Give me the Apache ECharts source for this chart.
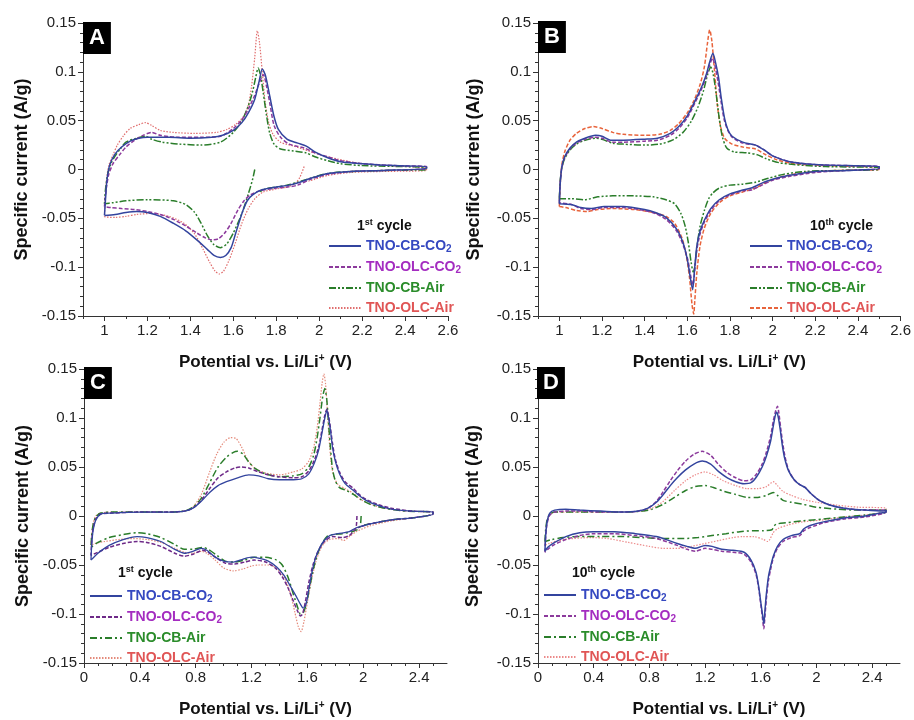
<!DOCTYPE html>
<html><head><meta charset="utf-8">
<script src="https://cdn.jsdelivr.net/npm/echarts@6/dist/echarts.min.js"></script>
<style>html,body{margin:0;padding:0;background:#fff}#c{width:914px;height:720px}</style>
</head><body><div id="c"></div>
<script>
// ---------- labels / ticks ----------
const seriesNames = ['TNO-CB-CO2', 'TNO-OLC-CO2', 'TNO-CB-Air', 'TNO-OLC-Air'];
const panelLetters = ['A', 'B', 'C', 'D'];
const cycleNum = ['1', '10', '1', '10'];
const cycleSup = ['st', 'th', 'st', 'th'];
const xTicksAB = [1, 1.2, 1.4, 1.6, 1.8, 2, 2.2, 2.4, 2.6];
const xTicksCD = [0, 0.4, 0.8, 1.2, 1.6, 2, 2.4];
const xMinorAB = [0.9,1.1,1.3,1.5,1.7,1.9,2.1,2.3,2.5];
const xMinorCD = [0.1,0.2,0.3,0.5,0.6,0.7,0.9,1.0,1.1,1.3,1.4,1.5,1.7,1.8,1.9,2.1,2.2,2.3,2.5];

// ---------- Panel A (1st cycle, 1.0-2.5 V) ----------
const A_CB_CO2 = [[1.0,-0.047],[1.005,-0.03],[1.012,-0.01],[1.025,0.005],[1.05,0.016],[1.08,0.023],[1.12,0.029],[1.16,0.032],[1.2,0.033],[1.3,0.033],[1.4,0.032],[1.5,0.033],[1.55,0.035],[1.6,0.04],[1.64,0.048],[1.67,0.058],[1.7,0.072],[1.72,0.09],[1.735,0.103],[1.75,0.096],[1.77,0.075],[1.79,0.054],[1.81,0.041],[1.85,0.031],[1.9,0.027],[1.94,0.024],[1.98,0.018],[2.04,0.012],[2.1,0.008],[2.2,0.006],[2.35,0.004],[2.5,0.003],
 [2.5,0.001],[2.3,-0.001],[2.15,-0.002],[2.04,-0.004],[1.96,-0.009],[1.91,-0.013],[1.86,-0.016],[1.8,-0.018],[1.73,-0.021],[1.69,-0.026],[1.665,-0.032],[1.645,-0.042],[1.63,-0.052],[1.61,-0.066],[1.59,-0.08],[1.565,-0.088],[1.54,-0.09],[1.51,-0.088],[1.48,-0.082],[1.43,-0.072],[1.38,-0.063],[1.32,-0.055],[1.26,-0.048],[1.2,-0.044],[1.15,-0.043],[1.1,-0.044],[1.05,-0.046],[1.0,-0.047]];
const A_OLC_CO2 = [[1.0,-0.038],[1.008,-0.02],[1.02,-0.005],[1.04,0.006],[1.07,0.015],[1.1,0.023],[1.14,0.03],[1.18,0.035],[1.22,0.038],[1.26,0.035],[1.34,0.033],[1.45,0.033],[1.54,0.034],[1.6,0.042],[1.64,0.051],[1.67,0.062],[1.7,0.076],[1.72,0.088],[1.74,0.097],[1.755,0.085],[1.77,0.068],[1.79,0.045],[1.82,0.033],[1.86,0.026],[1.93,0.022],[1.98,0.017],[2.04,0.013],[2.1,0.009],[2.2,0.006],[2.35,0.004],[2.5,0.003],
 [2.5,0.001],[2.3,-0.001],[2.15,-0.002],[2.04,-0.005],[1.96,-0.01],[1.9,-0.016],[1.85,-0.018],[1.8,-0.019],[1.72,-0.022],[1.68,-0.026],[1.65,-0.032],[1.62,-0.042],[1.59,-0.055],[1.56,-0.065],[1.53,-0.071],[1.5,-0.072],[1.47,-0.07],[1.43,-0.065],[1.38,-0.058],[1.32,-0.051],[1.26,-0.046],[1.2,-0.043],[1.14,-0.041],[1.08,-0.04],[1.03,-0.039],[1.0,-0.038]];
const A_CB_Air = [[1.70,0.0],[1.69,-0.01],[1.67,-0.025],[1.64,-0.045],[1.6,-0.065],[1.57,-0.076],[1.54,-0.08],[1.51,-0.077],[1.48,-0.068],[1.45,-0.055],[1.42,-0.044],[1.38,-0.036],[1.32,-0.032],[1.2,-0.031],[1.1,-0.032],[1.04,-0.034],[1.0,-0.035],
 [1.005,-0.02],[1.015,-0.005],[1.03,0.006],[1.05,0.014],[1.07,0.02],[1.1,0.028],[1.15,0.032],[1.19,0.034],[1.22,0.031],[1.27,0.028],[1.35,0.026],[1.45,0.025],[1.54,0.028],[1.6,0.038],[1.64,0.05],[1.67,0.065],[1.69,0.08],[1.705,0.095],[1.716,0.104],[1.728,0.095],[1.74,0.078],[1.755,0.055],[1.77,0.037],[1.79,0.026],[1.82,0.021],[1.88,0.019],[1.94,0.017],[1.98,0.013],[2.04,0.009],[2.1,0.006],[2.2,0.004],[2.5,0.002],
 [2.5,0.0],[2.3,-0.001],[2.15,-0.002],[2.04,-0.004],[1.96,-0.009],[1.9,-0.013],[1.85,-0.016],[1.8,-0.018],[1.75,-0.02],[1.72,-0.023]];
const A_OLC_Air = [[1.93,0.003],[1.91,-0.008],[1.89,-0.014],[1.85,-0.018],[1.8,-0.02],[1.74,-0.023],[1.7,-0.03],[1.67,-0.04],[1.64,-0.055],[1.61,-0.075],[1.58,-0.093],[1.555,-0.104],[1.535,-0.107],[1.515,-0.104],[1.49,-0.095],[1.46,-0.082],[1.42,-0.066],[1.37,-0.055],[1.3,-0.048],[1.22,-0.045],[1.15,-0.046],[1.1,-0.048],[1.05,-0.049],[1.0,-0.048],
 [1.004,-0.03],[1.01,-0.01],[1.02,0.004],[1.04,0.015],[1.06,0.025],[1.09,0.035],[1.12,0.042],[1.16,0.046],[1.19,0.048],[1.22,0.045],[1.26,0.04],[1.32,0.038],[1.42,0.037],[1.52,0.038],[1.57,0.041],[1.61,0.046],[1.65,0.055],[1.67,0.066],[1.685,0.085],[1.7,0.115],[1.712,0.142],[1.722,0.13],[1.735,0.1],[1.748,0.07],[1.765,0.048],[1.785,0.036],[1.82,0.028],[1.88,0.024],[1.95,0.019],[2.04,0.013],[2.2,0.006],[2.5,0.001],
 [2.5,-0.001],[2.3,-0.002],[2.15,-0.003],[2.04,-0.006],[1.98,-0.01],[1.95,-0.012]];

// ---------- Panel B (10th cycle, 1.0-2.5 V) ----------
const B_CB_CO2 = [[1.0,-0.035],[1.004,-0.015],[1.012,0.003],[1.025,0.013],[1.05,0.022],[1.08,0.028],[1.12,0.032],[1.17,0.035],[1.2,0.034],[1.24,0.03],[1.3,0.03],[1.4,0.031],[1.46,0.032],[1.52,0.037],[1.56,0.044],[1.6,0.055],[1.64,0.072],[1.67,0.086],[1.69,0.098],[1.705,0.11],[1.72,0.119],[1.732,0.11],[1.746,0.095],[1.76,0.072],[1.775,0.052],[1.79,0.041],[1.81,0.034],[1.86,0.028],[1.92,0.025],[1.96,0.02],[2.0,0.014],[2.08,0.008],[2.2,0.005],[2.35,0.004],[2.5,0.003],
 [2.5,0.001],[2.35,-0.001],[2.2,-0.002],[2.08,-0.006],[2.0,-0.01],[1.95,-0.014],[1.9,-0.019],[1.86,-0.021],[1.8,-0.025],[1.75,-0.031],[1.71,-0.04],[1.68,-0.052],[1.66,-0.063],[1.645,-0.078],[1.635,-0.1],[1.625,-0.123],[1.615,-0.112],[1.6,-0.092],[1.58,-0.075],[1.55,-0.061],[1.5,-0.049],[1.45,-0.044],[1.4,-0.041],[1.3,-0.038],[1.21,-0.038],[1.15,-0.04],[1.1,-0.039],[1.06,-0.036],[1.0,-0.035]];
const B_OLC_CO2 = [[1.0,-0.034],[1.004,-0.014],[1.012,0.002],[1.025,0.012],[1.05,0.021],[1.08,0.027],[1.12,0.031],[1.17,0.033],[1.2,0.032],[1.25,0.028],[1.3,0.028],[1.4,0.029],[1.46,0.03],[1.52,0.035],[1.56,0.042],[1.6,0.053],[1.64,0.07],[1.67,0.084],[1.69,0.096],[1.705,0.107],[1.718,0.114],[1.73,0.106],[1.744,0.09],[1.758,0.07],[1.772,0.052],[1.79,0.04],[1.81,0.033],[1.86,0.027],[1.92,0.025],[1.96,0.02],[2.0,0.014],[2.08,0.008],[2.2,0.005],[2.35,0.004],[2.5,0.003],
 [2.5,0.001],[2.35,-0.001],[2.2,-0.003],[2.08,-0.007],[2.0,-0.011],[1.95,-0.016],[1.9,-0.021],[1.86,-0.022],[1.8,-0.026],[1.75,-0.032],[1.71,-0.042],[1.68,-0.054],[1.66,-0.066],[1.645,-0.082],[1.635,-0.103],[1.627,-0.118],[1.617,-0.11],[1.602,-0.092],[1.58,-0.077],[1.55,-0.063],[1.5,-0.051],[1.45,-0.045],[1.4,-0.042],[1.3,-0.039],[1.21,-0.039],[1.15,-0.041],[1.1,-0.04],[1.06,-0.036],[1.0,-0.034]];
const B_CB_Air = [[1.0,-0.03],[1.004,-0.012],[1.012,0.002],[1.025,0.011],[1.05,0.02],[1.08,0.026],[1.12,0.03],[1.17,0.032],[1.2,0.031],[1.25,0.027],[1.3,0.026],[1.4,0.025],[1.47,0.026],[1.53,0.03],[1.58,0.038],[1.62,0.05],[1.65,0.064],[1.675,0.08],[1.695,0.097],[1.71,0.105],[1.722,0.097],[1.735,0.078],[1.75,0.052],[1.765,0.033],[1.785,0.022],[1.82,0.018],[1.88,0.017],[1.93,0.015],[1.97,0.011],[2.03,0.007],[2.1,0.005],[2.25,0.003],[2.5,0.002],
 [2.5,0.0],[2.3,-0.001],[2.15,-0.002],[2.05,-0.005],[1.98,-0.009],[1.92,-0.013],[1.86,-0.015],[1.8,-0.016],[1.75,-0.019],[1.72,-0.024],[1.7,-0.03],[1.68,-0.042],[1.66,-0.058],[1.645,-0.08],[1.635,-0.1],[1.628,-0.105],[1.618,-0.095],[1.605,-0.075],[1.59,-0.058],[1.57,-0.045],[1.54,-0.035],[1.5,-0.031],[1.44,-0.028],[1.35,-0.027],[1.25,-0.027],[1.18,-0.028],[1.12,-0.031],[1.06,-0.03],[1.0,-0.03]];
const B_OLC_Air = [[1.0,-0.038],[1.004,-0.015],[1.012,0.005],[1.025,0.018],[1.05,0.03],[1.08,0.037],[1.12,0.042],[1.16,0.044],[1.2,0.042],[1.25,0.038],[1.3,0.036],[1.4,0.035],[1.47,0.036],[1.52,0.04],[1.56,0.047],[1.6,0.058],[1.63,0.07],[1.66,0.087],[1.68,0.105],[1.695,0.13],[1.705,0.143],[1.715,0.132],[1.728,0.1],[1.74,0.068],[1.755,0.045],[1.775,0.032],[1.81,0.026],[1.86,0.023],[1.92,0.021],[1.96,0.016],[2.02,0.01],[2.1,0.006],[2.25,0.004],[2.5,0.002],
 [2.5,0.0],[2.3,-0.001],[2.15,-0.003],[2.05,-0.007],[1.98,-0.012],[1.92,-0.019],[1.86,-0.023],[1.8,-0.027],[1.75,-0.034],[1.71,-0.045],[1.68,-0.06],[1.66,-0.078],[1.645,-0.105],[1.635,-0.135],[1.63,-0.148],[1.622,-0.138],[1.61,-0.11],[1.595,-0.088],[1.575,-0.07],[1.54,-0.055],[1.5,-0.048],[1.44,-0.044],[1.35,-0.041],[1.25,-0.04],[1.18,-0.041],[1.13,-0.043],[1.08,-0.042],[1.03,-0.039],[1.0,-0.038]];

// ---------- Panel C (1st cycle, 0.05-2.5 V) ----------
const C_CB_CO2 = [[0.05,-0.045],[0.055,-0.03],[0.065,-0.015],[0.085,-0.004],[0.12,0.002],[0.2,0.003],[0.4,0.004],[0.6,0.004],[0.72,0.005],[0.78,0.008],[0.84,0.015],[0.9,0.024],[0.96,0.031],[1.02,0.035],[1.1,0.039],[1.18,0.042],[1.25,0.041],[1.32,0.038],[1.4,0.037],[1.5,0.037],[1.56,0.038],[1.61,0.043],[1.65,0.054],[1.68,0.067],[1.705,0.085],[1.725,0.1],[1.74,0.108],[1.752,0.1],[1.765,0.088],[1.78,0.07],[1.8,0.056],[1.83,0.043],[1.87,0.033],[1.93,0.026],[1.97,0.021],[2.02,0.016],[2.1,0.011],[2.2,0.007],[2.35,0.005],[2.5,0.004],
 [2.5,0.002],[2.35,-0.002],[2.2,-0.004],[2.05,-0.008],[1.95,-0.012],[1.9,-0.016],[1.82,-0.018],[1.76,-0.02],[1.72,-0.025],[1.69,-0.032],[1.66,-0.042],[1.635,-0.056],[1.61,-0.075],[1.59,-0.09],[1.57,-0.094],[1.55,-0.09],[1.52,-0.082],[1.48,-0.072],[1.43,-0.06],[1.38,-0.052],[1.32,-0.046],[1.25,-0.043],[1.2,-0.042],[1.14,-0.044],[1.07,-0.047],[1.0,-0.046],[0.94,-0.042],[0.88,-0.035],[0.84,-0.033],[0.78,-0.036],[0.72,-0.038],[0.65,-0.034],[0.55,-0.026],[0.45,-0.022],[0.38,-0.021],[0.28,-0.024],[0.18,-0.03],[0.1,-0.038],[0.05,-0.045]];
const C_OLC_CO2 = [[1.955,0.0],[1.952,-0.008],[1.945,-0.013],[1.9,-0.02],[1.85,-0.022],[1.78,-0.021],[1.73,-0.025],[1.7,-0.03],[1.67,-0.038],[1.64,-0.05],[1.61,-0.068],[1.585,-0.088],[1.565,-0.1],[1.55,-0.102],[1.53,-0.097],[1.5,-0.087],[1.46,-0.073],[1.42,-0.062],[1.37,-0.053],[1.3,-0.047],[1.22,-0.045],[1.15,-0.047],[1.08,-0.049],[1.01,-0.048],[0.95,-0.043],[0.89,-0.037],[0.85,-0.035],[0.78,-0.039],[0.72,-0.041],[0.65,-0.038],[0.55,-0.031],[0.45,-0.027],[0.38,-0.026],[0.28,-0.028],[0.18,-0.032],[0.1,-0.037],[0.05,-0.04],
 [0.055,-0.027],[0.065,-0.013],[0.085,-0.003],[0.12,0.002],[0.2,0.003],[0.4,0.004],[0.6,0.004],[0.72,0.005],[0.78,0.008],[0.84,0.016],[0.9,0.028],[0.96,0.039],[1.02,0.045],[1.08,0.049],[1.13,0.05],[1.18,0.049],[1.25,0.045],[1.32,0.042],[1.4,0.04],[1.5,0.039],[1.56,0.04],[1.61,0.046],[1.65,0.057],[1.68,0.07],[1.705,0.088],[1.725,0.103],[1.74,0.109],[1.752,0.102],[1.765,0.09],[1.78,0.074],[1.8,0.058],[1.83,0.045],[1.87,0.035],[1.93,0.028],[1.97,0.022],[2.02,0.017],[2.1,0.012],[2.2,0.008],[2.35,0.005],[2.5,0.004],
 [2.5,0.002],[2.35,-0.002],[2.2,-0.004],[2.05,-0.008],[1.96,-0.012]];
const C_CB_Air = [[1.985,0.0],[1.98,-0.009],[1.97,-0.013],[1.92,-0.016],[1.85,-0.018],[1.78,-0.019],[1.74,-0.021],[1.71,-0.027],[1.68,-0.036],[1.65,-0.05],[1.62,-0.07],[1.595,-0.088],[1.57,-0.099],[1.55,-0.1],[1.53,-0.093],[1.5,-0.08],[1.46,-0.062],[1.42,-0.05],[1.38,-0.045],[1.3,-0.042],[1.22,-0.042],[1.15,-0.045],[1.08,-0.047],[1.01,-0.046],[0.95,-0.04],[0.89,-0.034],[0.85,-0.032],[0.78,-0.034],[0.72,-0.034],[0.65,-0.029],[0.55,-0.022],[0.45,-0.018],[0.38,-0.017],[0.28,-0.019],[0.18,-0.022],[0.1,-0.027],[0.05,-0.032],
 [0.055,-0.02],[0.065,-0.009],[0.085,-0.001],[0.12,0.003],[0.2,0.004],[0.4,0.004],[0.6,0.004],[0.72,0.005],[0.78,0.009],[0.84,0.018],[0.9,0.034],[0.96,0.05],[1.02,0.06],[1.07,0.065],[1.1,0.066],[1.14,0.063],[1.18,0.055],[1.23,0.048],[1.3,0.043],[1.4,0.04],[1.5,0.041],[1.56,0.043],[1.61,0.05],[1.645,0.062],[1.67,0.08],[1.69,0.1],[1.71,0.122],[1.725,0.13],[1.738,0.12],[1.75,0.098],[1.765,0.07],[1.78,0.048],[1.8,0.036],[1.83,0.029],[1.88,0.026],[1.93,0.022],[1.98,0.017],[2.05,0.012],[2.15,0.008],[2.3,0.005],[2.5,0.004],
 [2.5,0.002],[2.35,-0.002],[2.2,-0.004],[2.05,-0.008],[1.99,-0.01]];
const C_OLC_Air = [[0.05,-0.03],[0.055,-0.02],[0.065,-0.008],[0.085,0.0],[0.12,0.003],[0.2,0.004],[0.4,0.004],[0.6,0.004],[0.72,0.005],[0.78,0.009],[0.84,0.022],[0.9,0.045],[0.95,0.063],[1.0,0.075],[1.05,0.08],[1.09,0.079],[1.13,0.07],[1.17,0.058],[1.22,0.049],[1.3,0.044],[1.4,0.042],[1.5,0.045],[1.56,0.048],[1.61,0.056],[1.645,0.07],[1.67,0.09],[1.69,0.115],[1.705,0.135],[1.718,0.145],[1.73,0.135],[1.742,0.11],[1.755,0.08],[1.77,0.055],[1.79,0.04],[1.82,0.032],[1.87,0.028],[1.93,0.023],[1.98,0.017],[2.05,0.012],[2.15,0.008],[2.3,0.005],[2.5,0.004],
 [2.5,0.002],[2.35,-0.002],[2.2,-0.005],[2.05,-0.01],[1.95,-0.016],[1.9,-0.021],[1.86,-0.025],[1.82,-0.023],[1.76,-0.024],[1.72,-0.028],[1.69,-0.035],[1.66,-0.047],[1.63,-0.065],[1.6,-0.088],[1.575,-0.108],[1.555,-0.118],[1.535,-0.113],[1.51,-0.098],[1.48,-0.08],[1.44,-0.064],[1.4,-0.056],[1.33,-0.05],[1.25,-0.05],[1.2,-0.051],[1.14,-0.054],[1.07,-0.056],[1.0,-0.053],[0.94,-0.045],[0.88,-0.038],[0.84,-0.036],[0.78,-0.038],[0.72,-0.037],[0.65,-0.033],[0.55,-0.027],[0.45,-0.024],[0.35,-0.023],[0.25,-0.024],[0.15,-0.026],[0.08,-0.028],[0.05,-0.03]];

// ---------- Panel D (10th cycle, 0.05-2.5 V) ----------
const D_CB_CO2 = [[0.05,-0.036],[0.055,-0.02],[0.065,-0.006],[0.085,0.003],[0.12,0.006],[0.2,0.007],[0.3,0.006],[0.45,0.005],[0.6,0.004],[0.72,0.005],[0.79,0.008],[0.85,0.014],[0.9,0.022],[0.95,0.031],[1.0,0.039],[1.06,0.047],[1.12,0.053],[1.18,0.056],[1.24,0.053],[1.3,0.045],[1.36,0.039],[1.42,0.035],[1.48,0.033],[1.53,0.034],[1.57,0.04],[1.61,0.05],[1.64,0.061],[1.67,0.076],[1.69,0.092],[1.705,0.103],[1.715,0.106],[1.727,0.1],[1.74,0.088],[1.755,0.072],[1.77,0.06],[1.8,0.046],[1.84,0.037],[1.88,0.032],[1.92,0.029],[1.96,0.023],[2.02,0.016],[2.1,0.011],[2.2,0.008],[2.35,0.006],[2.48,0.005],[2.5,0.006],
 [2.5,0.004],[2.46,0.003],[2.35,0.0],[2.2,-0.002],[2.05,-0.006],[1.95,-0.01],[1.91,-0.013],[1.88,-0.018],[1.82,-0.02],[1.76,-0.024],[1.72,-0.031],[1.69,-0.041],[1.67,-0.052],[1.655,-0.062],[1.64,-0.08],[1.628,-0.1],[1.622,-0.11],[1.612,-0.1],[1.6,-0.088],[1.585,-0.072],[1.565,-0.057],[1.53,-0.045],[1.48,-0.037],[1.4,-0.035],[1.32,-0.034],[1.25,-0.031],[1.2,-0.03],[1.13,-0.033],[1.07,-0.031],[1.0,-0.028],[0.85,-0.021],[0.7,-0.018],[0.55,-0.016],[0.4,-0.016],[0.3,-0.017],[0.2,-0.021],[0.12,-0.027],[0.07,-0.032],[0.05,-0.036]];
const D_OLC_CO2 = [[0.05,-0.037],[0.055,-0.022],[0.065,-0.008],[0.085,0.001],[0.12,0.004],[0.2,0.005],[0.3,0.005],[0.45,0.004],[0.6,0.004],[0.72,0.005],[0.79,0.008],[0.85,0.015],[0.9,0.025],[0.95,0.036],[1.0,0.046],[1.06,0.056],[1.12,0.063],[1.18,0.066],[1.24,0.062],[1.3,0.052],[1.36,0.044],[1.42,0.039],[1.48,0.036],[1.53,0.037],[1.57,0.043],[1.61,0.053],[1.64,0.065],[1.67,0.081],[1.69,0.097],[1.708,0.108],[1.72,0.112],[1.73,0.105],[1.743,0.09],[1.758,0.074],[1.775,0.06],[1.8,0.047],[1.84,0.037],[1.88,0.032],[1.92,0.029],[1.96,0.023],[2.02,0.016],[2.1,0.011],[2.2,0.008],[2.35,0.006],[2.5,0.006],
 [2.5,0.004],[2.35,-0.001],[2.2,-0.003],[2.05,-0.007],[1.95,-0.012],[1.91,-0.015],[1.88,-0.02],[1.82,-0.022],[1.76,-0.026],[1.72,-0.033],[1.69,-0.043],[1.67,-0.055],[1.655,-0.066],[1.64,-0.085],[1.628,-0.106],[1.622,-0.115],[1.612,-0.104],[1.6,-0.09],[1.585,-0.074],[1.565,-0.059],[1.53,-0.047],[1.48,-0.039],[1.4,-0.037],[1.32,-0.036],[1.25,-0.034],[1.2,-0.033],[1.13,-0.036],[1.07,-0.034],[1.0,-0.03],[0.85,-0.023],[0.7,-0.02],[0.55,-0.018],[0.4,-0.018],[0.3,-0.02],[0.2,-0.024],[0.12,-0.029],[0.07,-0.034],[0.05,-0.037]];
const D_CB_Air = [[0.05,-0.026],[0.055,-0.014],[0.065,-0.004],[0.085,0.002],[0.12,0.004],[0.3,0.004],[0.6,0.004],[0.75,0.005],[0.82,0.007],[0.9,0.012],[0.98,0.019],[1.06,0.026],[1.13,0.03],[1.2,0.031],[1.26,0.029],[1.34,0.025],[1.42,0.022],[1.5,0.019],[1.58,0.019],[1.64,0.021],[1.69,0.024],[1.72,0.021],[1.76,0.016],[1.82,0.014],[1.9,0.012],[2.0,0.009],[2.15,0.007],[2.3,0.006],[2.5,0.006],
 [2.5,0.004],[2.35,0.001],[2.2,-0.001],[2.05,-0.003],[1.9,-0.005],[1.78,-0.007],[1.72,-0.008],[1.695,-0.01],[1.68,-0.014],[1.62,-0.015],[1.55,-0.015],[1.45,-0.016],[1.35,-0.018],[1.25,-0.02],[1.15,-0.022],[1.05,-0.023],[0.9,-0.023],[0.75,-0.022],[0.6,-0.021],[0.45,-0.021],[0.3,-0.021],[0.18,-0.022],[0.1,-0.024],[0.05,-0.026]];
const D_OLC_Air = [[0.05,-0.03],[0.055,-0.017],[0.065,-0.006],[0.085,0.001],[0.12,0.004],[0.3,0.004],[0.6,0.004],[0.75,0.005],[0.82,0.008],[0.9,0.015],[0.98,0.026],[1.06,0.036],[1.13,0.042],[1.2,0.045],[1.26,0.042],[1.33,0.036],[1.42,0.031],[1.5,0.028],[1.58,0.028],[1.64,0.03],[1.69,0.035],[1.72,0.031],[1.76,0.025],[1.82,0.021],[1.9,0.017],[2.0,0.014],[2.15,0.011],[2.3,0.009],[2.5,0.008],
 [2.5,0.005],[2.35,0.001],[2.2,-0.001],[2.05,-0.004],[1.9,-0.006],[1.8,-0.009],[1.72,-0.013],[1.69,-0.017],[1.665,-0.024],[1.65,-0.026],[1.62,-0.024],[1.55,-0.021],[1.47,-0.021],[1.4,-0.022],[1.3,-0.025],[1.2,-0.028],[1.1,-0.031],[1.0,-0.033],[0.9,-0.033],[0.8,-0.031],[0.65,-0.027],[0.5,-0.023],[0.38,-0.022],[0.25,-0.023],[0.15,-0.025],[0.08,-0.028],[0.05,-0.03]];

const panelData = [
  [A_CB_CO2, A_OLC_CO2, A_CB_Air, A_OLC_Air],
  [B_CB_CO2, B_OLC_CO2, B_CB_Air, B_OLC_Air],
  [C_CB_CO2, C_OLC_CO2, C_CB_Air, C_OLC_Air],
  [D_CB_CO2, D_OLC_CO2, D_CB_Air, D_OLC_Air]
];

// ---------- styling ----------
const FONT = '"Liberation Sans", Arial, Helvetica, sans-serif';
const lineColors = ['#33449e', '#8c3a9c', '#2a7d2a', '#e06e6e'];
const textColors = ['#3548c0', '#a42cc0', '#2a8c2a', '#e05555'];
const dashDotDot = [7, 2, 2, 2, 2, 2];
const dashDot = [7, 3, 2, 3];
const panelStyles = [
  [{type:'solid', w:1.5}, {type:[4,2], w:1.5}, {type:dashDotDot, w:1.5}, {type:[1.5,1.5], w:1.2}],
  [{type:'solid', w:1.5}, {type:[4,2], w:1.5}, {type:dashDotDot, w:1.5}, {type:[4,2], w:1.5, color:'#e8643c'}],
  [{type:'solid', w:1.3}, {type:[4,2], w:1.5, color:'#6e2a88'}, {type:dashDot, w:1.5}, {type:[1.5,1.5], w:1.2, color:'#e48a7a'}],
  [{type:'solid', w:1.5}, {type:[4,2], w:1.5}, {type:dashDot, w:1.5}, {type:[1.5,1.5], w:1.2, color:'#ec8a8a'}]
];

const gridBoxes = [
  {left: 83, top: 23, width: 365, height: 293},
  {left: 538, top: 23, width: 363, height: 293},
  {left: 84, top: 369, width: 363, height: 294},
  {left: 538, top: 369, width: 362, height: 294}
];
const legendPos = [[328, 239], [749, 239], [89, 589], [543, 588]];
const cyclePos = [[357, 218], [810, 218], [118, 565], [572, 565]];
const letterPos = [[83, 22], [538, 21], [84, 367], [537, 367]];
const yNameGap = [52, 55, 52, 56];

// legend label: "CO2" -> CO with subscript 2
function legendLabel(n) {
  const s = n.split('|')[1];
  return s.endsWith('CO2') ? s.slice(0, -1) + '{sub|2}' : s;
}

// grids 0-3: data panels; grids 4-7: identical overlays carrying the minor x ticks
const grids = gridBoxes.concat(gridBoxes.map(b => Object.assign({}, b)));
const xAxes = [], yAxes = [], series = [], legends = [], titles = [];
for (let g = 0; g < 4; g++) {
  const ab = g < 2;
  xAxes.push({
    type: 'value', gridIndex: g, min: ab ? 0.9 : 0, max: 2.6,
    name: 'Potential vs. Li/Li{sup|+} (V)', nameLocation: 'middle', nameGap: 37,
    nameTextStyle: {fontFamily: FONT, fontSize: 17, fontWeight: 'bold', color: '#111',
      rich: {sup: {fontFamily: FONT, fontSize: 10, fontWeight: 'bold', color: '#111', verticalAlign: 'top', lineHeight: 18}}},
    axisLine: {show: true, onZero: false, lineStyle: {color: '#333', width: 1}},
    axisTick: {show: true, inside: false, length: 5, customValues: ab ? xTicksAB : xTicksCD, lineStyle: {color: '#333'}},
    axisLabel: {customValues: ab ? xTicksAB : xTicksCD, fontFamily: FONT, fontSize: 15, color: '#222', margin: 7},
    splitLine: {show: false}
  });
  yAxes.push({
    type: 'value', gridIndex: g, min: -0.15, max: 0.15, interval: 0.05,
    name: 'Specific current (A/g)', nameLocation: 'middle', nameGap: yNameGap[g],
    nameTextStyle: {fontFamily: FONT, fontSize: 18, fontWeight: 'bold', color: '#111'},
    axisLine: {show: true, onZero: false, lineStyle: {color: '#333', width: 1}},
    axisTick: {show: true, length: 5, lineStyle: {color: '#333'}},
    minorTick: {show: true, splitNumber: 5, length: 3, lineStyle: {color: '#333'}},
    axisLabel: {fontFamily: FONT, fontSize: 15, color: '#222', margin: 7},
    splitLine: {show: false}
  });
  for (let k = 0; k < 4; k++) {
    const st = panelStyles[g][k];
    series.push({
      type: 'line', name: panelLetters[g] + '|' + seriesNames[k],
      xAxisIndex: g, yAxisIndex: g, data: panelData[g][k],
      symbol: 'none', smooth: 0.25, animation: false, z: 10 - k,
      lineStyle: {color: st.color || lineColors[k], width: st.w, type: st.type},
      itemStyle: {color: st.color || lineColors[k]}
    });
  }
  legends.push({
    orient: 'vertical', left: legendPos[g][0], top: legendPos[g][1], padding: 0,
    itemWidth: 32, itemHeight: 12, itemGap: 6, selectedMode: false,
    itemStyle: {color: 'rgba(0,0,0,0)', borderColor: 'rgba(0,0,0,0)', borderWidth: 0, opacity: 0},
    data: seriesNames.map((n, k) => ({name: panelLetters[g] + '|' + n, textStyle: {color: textColors[k]}})),
    formatter: legendLabel,
    textStyle: {fontFamily: FONT, fontSize: 14, fontWeight: 'bold',
      rich: {sub: {fontFamily: FONT, fontSize: 10, fontWeight: 'bold', padding: [6, 0, 0, 0]}}}
  });
  titles.push({
    text: cycleNum[g] + '{s|' + cycleSup[g] + '} cycle', left: cyclePos[g][0], top: cyclePos[g][1], padding: 0,
    textStyle: {fontFamily: FONT, fontSize: 14, fontWeight: 'bold', color: '#111', lineHeight: 17,
      rich: {s: {fontFamily: FONT, fontSize: 9, fontWeight: 'bold', color: '#111', verticalAlign: 'top', lineHeight: 17}}}
  });
  titles.push({
    text: panelLetters[g], left: letterPos[g][0], top: letterPos[g][1], padding: [4, 6, 4, 6],
    backgroundColor: '#000',
    textStyle: {fontFamily: FONT, fontSize: 22, fontWeight: 'bold', color: '#fff', lineHeight: 24}
  });
}
// minor x tick overlays (separate identical grids so they sit on the bottom edge)
for (let g = 0; g < 4; g++) {
  const ab = g < 2;
  xAxes.push({
    type: 'value', gridIndex: g + 4, min: ab ? 0.9 : 0, max: 2.6, position: 'bottom',
    axisLine: {show: false, onZero: false}, axisLabel: {show: false}, splitLine: {show: false},
    axisTick: {show: true, length: 3, customValues: ab ? xMinorAB : xMinorCD, lineStyle: {color: '#333'}}
  });
  yAxes.push({type: 'value', gridIndex: g + 4, min: -0.15, max: 0.15, show: false});
}

const chart = echarts.init(document.getElementById('c'), null, {renderer: 'canvas'});
chart.setOption({
  backgroundColor: '#fff', animation: false,
  grid: grids, xAxis: xAxes, yAxis: yAxes, series: series, legend: legends, title: titles
});
</script></body></html>
